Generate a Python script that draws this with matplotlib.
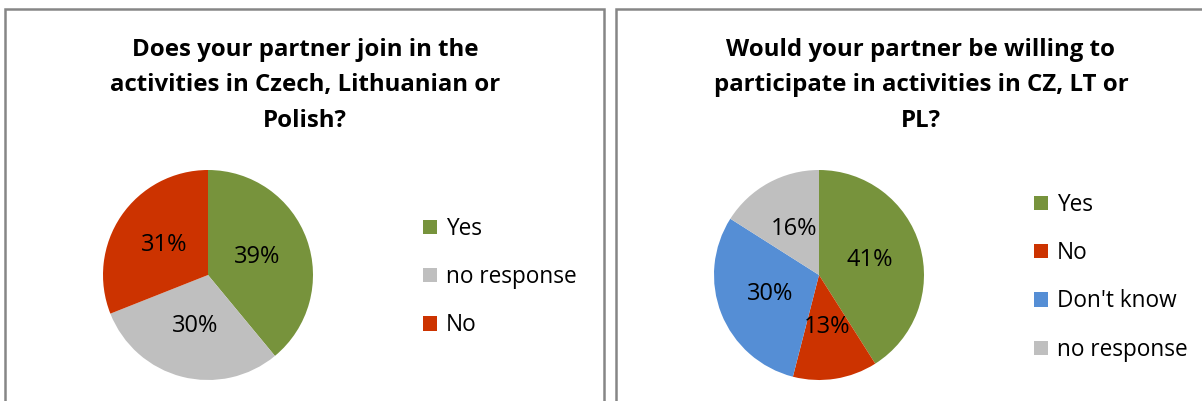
import matplotlib.pyplot as plt
from matplotlib.patches import Rectangle

# survey answers, left chart
join_labels = ["Yes", "no response", "No"]
join_pct = [39, 30, 31]
join_colors = ["#77933C", "#BFBFBF", "#CC3300"]
join_title = "Does your partner join in the\nactivities in Czech, Lithuanian or\nPolish?"

# survey answers, right chart
willing_labels = ["Yes", "No", "Don't know", "no response"]
willing_pct = [41, 13, 30, 16]
willing_colors = ["#77933C", "#CC3300", "#558ED5", "#BFBFBF"]
willing_title = "Would your partner be willing to\nparticipate in activities in CZ, LT or\nPL?"

W, H = 1202, 401
fig = plt.figure(figsize=(W / 100, H / 100), dpi=100)
fig.patch.set_facecolor("white")

def px(x, y, w, h):
    # pixel box (top-left origin) -> figure fraction
    return [x / W, 1 - (y + h) / H, w / W, h / H]

def panel(x0, x1, title, tx):
    fig.patches.append(Rectangle((x0 / W, -0.1), (x1 - x0) / W, 1 - 9 / H + 0.1,
                                 transform=fig.transFigure, fill=False,
                                 edgecolor="#868686", linewidth=1.8))
    fig.text(tx / W, 1 - 38 / H, title, ha="center", va="top",
             fontsize=17.3, fontweight="bold", family="Open Sans",
             linespacing=1.63)

def pie(cx, cy, r, pct, colors, labels, leg_x, leg_y):
    ax = fig.add_axes(px(cx - r, cy - r, 2 * r, 2 * r))
    wedges, texts, autotexts = ax.pie(pct, colors=colors, startangle=90,
                                      counterclock=False, autopct="%.0f%%",
                                      pctdistance=0.5,
                                      wedgeprops=dict(linewidth=0),
                                      textprops=dict(fontsize=17, family="Open Sans",
                                                     color="black"))
    ax.set_xlim(-1, 1)
    ax.set_ylim(-1, 1)
    ax.set_aspect("equal")
    fig.legend(wedges, labels, loc="upper left",
               bbox_to_anchor=(leg_x / W, 1 - leg_y / H),
               frameon=False, prop=dict(family="Open Sans", size=16.3),
               handlelength=0.6, handleheight=0.6, handletextpad=0.4,
               labelspacing=1.07, borderpad=0, borderaxespad=0)

panel(5, 604, join_title, 305)
panel(616, 1230, willing_title, 921)

pie(208, 275, 105, join_pct, join_colors, join_labels, 423, 217)
pie(819, 275, 105, willing_pct, willing_colors, willing_labels, 1034, 193)

fig.savefig("out.png", dpi=100)
